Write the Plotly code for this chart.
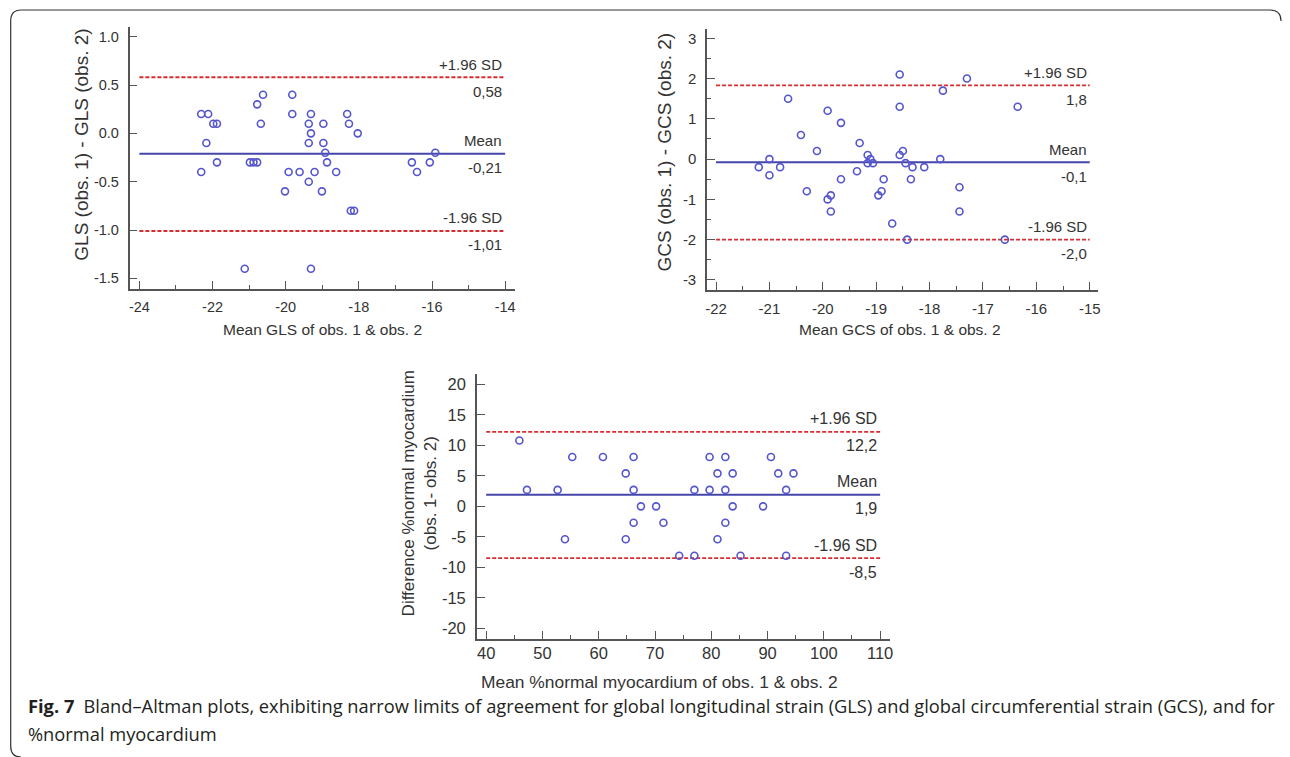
import plotly.graph_objects as go

# ---------------- data ----------------
gls_mean = [-22.31, -22.12, -21.98, -21.88, -22.17, -22.31, -21.88, -21.12, -20.98, -20.88,
            -20.78, -20.78, -20.62, -20.68, -20.02, -19.92, -19.82, -19.82, -19.62, -19.37,
            -19.37, -19.37, -19.31, -19.31, -19.31, -19.21, -19.01, -18.97, -18.97, -18.92,
            -18.87, -18.62, -18.32, -18.27, -18.22, -18.13, -18.03, -16.55, -16.41, -16.06, -15.91]
gls_diff = [0.2, 0.2, 0.1, 0.1, -0.1, -0.4, -0.3, -1.4, -0.3, -0.3,
            -0.3, 0.3, 0.4, 0.1, -0.6, -0.4, 0.4, 0.2, -0.4, -0.5,
            -0.1, 0.1, 0.2, 0.0, -1.4, -0.4, -0.6, -0.1, 0.1, -0.2,
            -0.3, -0.4, 0.2, 0.1, -0.8, -0.8, 0.0, -0.3, -0.4, -0.3, -0.2]
gls_limits = [0.58, -0.21, -1.01]
gls_limit_text = ["0,58", "-0,21", "-1,01"]
gls_line_x = [-24, -14]

gcs_mean = [-21.20, -21.00, -21.00, -20.80, -20.65, -20.41, -20.30, -20.11, -19.91, -19.91,
            -19.85, -19.85, -19.66, -19.66, -19.36, -19.31, -19.16, -19.16, -19.11, -19.06,
            -18.96, -18.90, -18.86, -18.70, -18.56, -18.56, -18.56, -18.50, -18.45, -18.42,
            -18.35, -18.32, -18.10, -17.80, -17.75, -17.44, -17.44, -17.30, -16.59, -16.35]
gcs_diff = [-0.2, 0.0, -0.4, -0.2, 1.5, 0.6, -0.8, 0.2, 1.2, -1.0,
            -0.9, -1.3, 0.9, -0.5, -0.3, 0.4, 0.1, -0.1, 0.0, -0.1,
            -0.9, -0.8, -0.5, -1.6, 2.1, 1.3, 0.1, 0.2, -0.1, -2.0,
            -0.5, -0.2, -0.2, 0.0, 1.7, -0.7, -1.3, 2.0, -2.0, 1.3]
gcs_limits = [1.83, -0.08, -2.0]
gcs_limit_text = ["1,8", "-0,1", "-2,0"]
gcs_line_x = [-22, -15]

nm_mean = [45.9, 47.25, 52.7, 54.0, 55.3, 60.75, 64.8, 64.8, 66.2, 66.2,
           66.2, 67.5, 70.2, 71.5, 74.3, 77.0, 77.0, 79.7, 79.7, 81.1,
           81.1, 82.5, 82.5, 82.5, 83.8, 83.8, 85.2, 89.2, 90.6, 91.9,
           93.3, 93.3, 94.6]
nm_diff = [10.8, 2.7, 2.7, -5.4, 8.1, 8.1, 5.4, -5.4, 8.1, 2.7,
           -2.7, 0, 0, -2.7, -8.1, 2.7, -8.1, 8.1, 2.7, 5.4,
           -5.4, 8.1, 2.7, -2.7, 5.4, 0, -8.1, 0, 8.1, 5.4,
           2.7, -8.1, 5.4]
nm_limits = [12.2, 1.9, -8.5]
nm_limit_text = ["12,2", "1,9", "-8,5"]
nm_line_x = [40, 110]

limit_names = ["+1.96 SD", "Mean", "-1.96 SD"]

# tick labels
gls_xticks = [-24, -22, -20, -18, -16, -14]
gls_xticktext = ["-24", "-22", "-20", "-18", "-16", "-14"]
gls_xminor = [-23, -21, -19, -17, -15]
gls_yticks = [-1.5, -1.0, -0.5, 0.0, 0.5, 1.0]
gls_yticktext = ["-1.5", "-1.0", "-0.5", "0.0", "0.5", "1.0"]

gcs_xticks = [-22, -21, -20, -19, -18, -17, -16, -15]
gcs_xticktext = ["-22", "-21", "-20", "-19", "-18", "-17", "-16", "-15"]
gcs_xminor = [-21.5, -20.5, -19.5, -18.5, -17.5, -16.5, -15.5]
gcs_yticks = [-3, -2, -1, 0, 1, 2, 3]
gcs_yticktext = ["-3", "-2", "-1", "0", "1", "2", "3"]
gcs_yminor = [-2.5, -1.5, -0.5, 0.5, 1.5, 2.5]

nm_xticks = [40, 50, 60, 70, 80, 90, 100, 110]
nm_xticktext = ["40", "50", "60", "70", "80", "90", "100", "110"]
nm_xminor = [45, 55, 65, 75, 85, 95, 105]
nm_yticks = [-20, -15, -10, -5, 0, 5, 10, 15, 20]
nm_yticktext = ["-20", "-15", "-10", "-5", "0", "5", "10", "15", "20"]

# ---------------- layout helpers ----------------
# the page body has an 8px margin, so the figure is offset by 8px
OFF = 8
W, H = 1290 - OFF, 757 - OFF


def px(x):
    return (x - OFF) / W


def py(y):
    return 1 - (y - OFF) / H


FONT = "Liberation Sans, Arial, sans-serif"
TXT = "#333333"
AX = "#555555"
MARK = "rgb(85,85,205)"
MEANC = "rgb(70,70,170)"
REDC = "rgb(215,45,50)"

fig = go.Figure()

panels = [
    ("x", "y", gls_mean, gls_diff, gls_limits, gls_limit_text, gls_line_x, 15),
    ("x2", "y2", gcs_mean, gcs_diff, gcs_limits, gcs_limit_text, gcs_line_x, 15),
    ("x3", "y3", nm_mean, nm_diff, nm_limits, nm_limit_text, nm_line_x, 16),
]

annotations = []
for xa, ya, mx, dy, lims, ltxt, lx, fs in panels:
    for i, v in enumerate(lims):
        is_mean = (i == 1)
        fig.add_trace(go.Scatter(
            x=lx, y=[v, v], xaxis=xa, yaxis=ya, mode="lines", showlegend=False,
            hoverinfo="skip",
            line=dict(color=MEANC if is_mean else REDC, width=2 if is_mean else 1.8,
                      dash="solid" if is_mean else "4px,2px"),
        ))
        annotations.append(dict(x=lx[1], y=v, xref=xa, yref=ya, text=limit_names[i],
                                showarrow=False, xanchor="right", yanchor="middle",
                                yshift=13, xshift=-1,
                                font=dict(family=FONT, size=fs, color=TXT)))
        annotations.append(dict(x=lx[1], y=v, xref=xa, yref=ya, text=ltxt[i],
                                showarrow=False, xanchor="right", yanchor="middle",
                                yshift=-14, xshift=-1,
                                font=dict(family=FONT, size=fs, color=TXT)))
    fig.add_trace(go.Scatter(
        x=mx, y=dy, xaxis=xa, yaxis=ya, mode="markers", showlegend=False,
        marker=dict(symbol="circle-open", size=7, color=MARK, line=dict(width=1.6, color=MARK)),
    ))


def axis(domain, anchor, rng, tickvals, ticktext, minor_vals, fsize, standoff):
    d = dict(domain=domain, anchor=anchor, range=rng, tickmode="array",
             tickvals=tickvals, ticktext=ticktext, showline=True, linecolor=AX,
             linewidth=1.5, ticks="inside", ticklen=8, tickwidth=1.2, tickcolor=AX,
             showgrid=False, zeroline=False, ticklabelstandoff=standoff,
             tickfont=dict(family=FONT, size=fsize, color=TXT), fixedrange=True)
    if minor_vals:
        d["minor"] = dict(tickmode="array", tickvals=minor_vals, ticks="inside",
                          ticklen=4, tickwidth=1.2, tickcolor=AX, showgrid=False)
    return d


fig.update_layout(
    width=W, height=H, margin=dict(l=0, r=0, t=0, b=0),
    paper_bgcolor="white", plot_bgcolor="white",
    xaxis=axis([px(128), px(515)], "y", [-24.27, -13.73], gls_xticks, gls_xticktext, gls_xminor, 14.5, 4),
    yaxis=axis([py(289), py(27)], "x", [-1.61, 1.10], gls_yticks, gls_yticktext, None, 14.5, 6),
    xaxis2=axis([px(707.7), px(1100)], "y2", [-22.17, -14.85], gcs_xticks, gcs_xticktext, gcs_xminor, 15, 4),
    yaxis2=axis([py(290), py(29)], "x2", [-3.25, 3.23], gcs_yticks, gcs_yticktext, gcs_yminor, 15, 6),
    xaxis3=axis([px(476.7), px(891.7)], "y3", [38.35, 111.8], nm_xticks, nm_xticktext, nm_xminor, 16.5, -2),
    yaxis3=axis([py(639), py(374)], "x3", [-21.75, 21.7], nm_yticks, nm_yticktext, None, 16.5, 6),
)

# axis titles
titles = [
    ("GLS (obs. 1) - GLS (obs. 2)", 80, 145, -90, 19),
    ("Mean GLS of obs. 1 &amp; obs. 2", 322, 329, 0, 15.5),
    ("GCS (obs. 1) - GCS (obs. 2)", 666, 152, -90, 19),
    ("Mean GCS of obs. 1 &amp; obs. 2", 901, 329, 0, 15.5),
    ("Difference %normal myocardium<br>(obs. 1- obs. 2)", 419, 493, -90, 17),
    ("Mean %normal myocardium of obs. 1 &amp; obs. 2", 660, 682, 0, 17.4),
]
for t, x, y, ang, s in titles:
    annotations.append(dict(text=t, x=px(x), y=py(y), xref="paper", yref="paper",
                            xanchor="center", yanchor="middle", textangle=ang, showarrow=False,
                            font=dict(family=FONT, size=s, color=TXT)))

# caption
CAP = "Open Sans, Noto Sans, sans-serif"
annotations.append(dict(
    text="<b>Fig. 7</b>\u2002Bland\u2013Altman plots, exhibiting narrow limits of agreement for global longitudinal strain (GLS) and global circumferential strain (GCS), and for",
    x=px(24), y=py(705), xref="paper", yref="paper", xanchor="left", yanchor="middle",
    showarrow=False, font=dict(family=CAP, size=18.3, color="#231f20")))
annotations.append(dict(
    text="%normal myocardium",
    x=px(24), y=py(733), xref="paper", yref="paper", xanchor="left", yanchor="middle",
    showarrow=False, font=dict(family=CAP, size=18.3, color="#231f20")))

fig.update_layout(annotations=annotations)

# frame around the figure (rounded corners)
path = (f"M {px(19)},{py(757)} Q {px(8.7)},{py(757)} {px(8.7)},{py(746)} "
        f"L {px(8.7)},{py(21)} Q {px(8.7)},{py(10)} {px(19)},{py(10)} "
        f"L {px(1273)},{py(10)} Q {px(1284)},{py(10)} {px(1284)},{py(21)}")
fig.add_shape(type="path", path=path, xref="paper", yref="paper",
              line=dict(color="#333333", width=1.2))

fig.write_html("out.html")
